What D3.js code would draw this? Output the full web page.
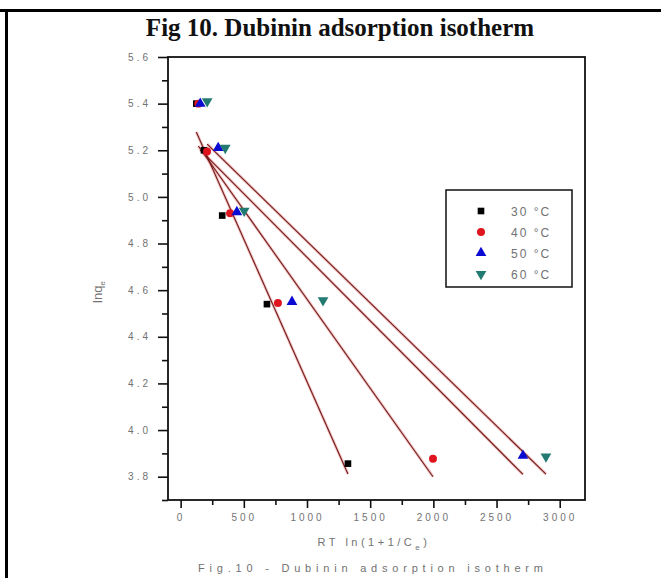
<!DOCTYPE html>
<html>
<head>
<meta charset="utf-8">
<script src="https://cdn.jsdelivr.net/npm/d3@7/dist/d3.min.js"></script>
<style>
  html, body { margin: 0; padding: 0; background: #fff; }
  svg { display: block; }
</style>
</head>
<body>
<svg id="chart" width="661" height="578"></svg>
<script>
// Dubinin isotherm: ln qe against RT ln(1 + 1/Ce) at four temperatures
const seriesNames = ["30 °C", "40 °C", "50 °C", "60 °C"];
const x30 = [124, 185, 329, 683, 1324];
const y30 = [5.40, 5.20, 4.92, 4.54, 3.856];
const x40 = [140, 209, 391, 770, 1997];
const y40 = [5.40, 5.195, 4.93, 4.545, 3.877];
const x50 = [155, 297, 445, 881, 2709];
const y50 = [5.40, 5.21, 4.935, 4.55, 3.89];
const x60 = [210, 353, 503, 1127, 2891];
const y60 = [5.41, 5.21, 4.94, 4.556, 3.886];

const xTicks = [0, 500, 1000, 1500, 2000, 2500, 3000];
const xMinorTicks = [250, 750, 1250, 1750, 2250, 2750];
const yTicks = [3.8, 4.0, 4.2, 4.4, 4.6, 4.8, 5.0, 5.2, 5.4, 5.6];
const yMinorTicks = [3.7, 3.9, 4.1, 4.3, 4.5, 4.7, 4.9, 5.1, 5.3, 5.5];

const colors = ["#000000", "#e0141e", "#0a0ad2", "#237a72"];
const symbols = ["square", "circle", "triangleUp", "triangleDown"];

const seriesX = [x30, x40, x50, x60];
const seriesY = [y30, y40, y50, y60];

const svg = d3.select("#chart");

// page border (top and left rules)
svg.append("rect").attr("x", 0).attr("y", 9).attr("width", 661).attr("height", 3).attr("fill", "#000");
svg.append("rect").attr("x", 5).attr("y", 9).attr("width", 3).attr("height", 569).attr("fill", "#000");

// heading
svg.append("text")
  .attr("x", 340).attr("y", 36)
  .attr("text-anchor", "middle")
  .attr("font-family", "'Liberation Serif', 'Times New Roman', serif")
  .attr("font-weight", "bold")
  .attr("font-size", 25)
  .attr("fill", "#111")
  .text("Fig 10. Dubinin adsorption isotherm");

const plot = { left: 168, right: 585, top: 57, bottom: 500 };
const x = d3.scaleLinear().domain([-100, 3200]).range([plot.left, plot.right]);
const y = d3.scaleLinear().domain([3.7, 5.6]).range([plot.bottom, plot.top]);

const labelColor = "#727272";
const sans = "'Liberation Sans', Arial, sans-serif";

// axes
function styleAxis(g) {
  g.select(".domain").remove();
  g.selectAll(".tick line").attr("stroke", "#111").attr("stroke-width", 1.6);
  g.selectAll(".tick text")
    .attr("fill", labelColor)
    .attr("font-family", sans)
    .attr("font-size", 10)
    .attr("letter-spacing", "3px");
}

svg.append("g")
  .attr("transform", `translate(0,${plot.bottom})`)
  .call(d3.axisBottom(x).tickValues(xMinorTicks).tickSize(5).tickFormat(""))
  .call(styleAxis);
svg.append("g")
  .attr("transform", `translate(0,${plot.bottom})`)
  .call(d3.axisBottom(x).tickValues(xTicks).tickSize(8).tickPadding(6).tickFormat(d3.format("d")))
  .call(styleAxis);

svg.append("g")
  .attr("transform", `translate(${plot.left},0)`)
  .call(d3.axisLeft(y).tickValues(yMinorTicks).tickSize(6).tickFormat(""))
  .call(styleAxis);
svg.append("g")
  .attr("transform", `translate(${plot.left},0)`)
  .call(d3.axisLeft(y).tickValues(yTicks).tickSize(10).tickPadding(7).tickFormat(d3.format(".1f")))
  .call(styleAxis);

// plot frame
svg.append("rect")
  .attr("x", plot.left).attr("y", plot.top)
  .attr("width", plot.right - plot.left).attr("height", plot.bottom - plot.top)
  .attr("fill", "none").attr("stroke", "#111").attr("stroke-width", 1.8);

// least-squares fit lines spanning each series
function fit(xs, ys) {
  const mx = d3.mean(xs), my = d3.mean(ys);
  let sxy = 0, sxx = 0;
  xs.forEach((v, i) => { sxy += (v - mx) * (ys[i] - my); sxx += (v - mx) * (v - mx); });
  const b = sxy / sxx, a = my - b * mx;
  const x0 = d3.min(xs), x1 = d3.max(xs);
  return [[x0, a + b * x0], [x1, a + b * x1]];
}

const lineGen = d3.line().x(d => x(d[0])).y(d => y(d[1]));
const fits = seriesX.map((xs, i) => fit(xs, seriesY[i]));

svg.append("g").selectAll("path").data(fits).join("path")
  .attr("d", lineGen).attr("fill", "none")
  .attr("stroke", "#e25555").attr("stroke-opacity", 0.35).attr("stroke-width", 3);
svg.append("g").selectAll("path").data(fits).join("path")
  .attr("d", lineGen).attr("fill", "none")
  .attr("stroke", "#6e1c1c").attr("stroke-width", 1.1);

// markers
function markerPath(kind) {
  switch (kind) {
    case "square": return d3.symbol(d3.symbolSquare, 44)();
    case "circle": return d3.symbol(d3.symbolCircle, 50)();
    default: return d3.symbol(d3.symbolTriangle, 50)();
  }
}
function drawMarker(g, kind, color, px, py) {
  g.append("path")
    .attr("d", markerPath(kind))
    .attr("transform", `translate(${px},${py})${kind === "triangleDown" ? " rotate(180)" : ""}`)
    .attr("fill", color);
}

const markers = svg.append("g");
seriesX.forEach((xs, i) => {
  xs.forEach((v, j) => drawMarker(markers, symbols[i], colors[i], x(v), y(seriesY[i][j])));
});

// legend
const legend = svg.append("g");
legend.append("rect")
  .attr("x", 446).attr("y", 190).attr("width", 126).attr("height", 97)
  .attr("fill", "#fff").attr("stroke", "#111").attr("stroke-width", 1.5);
seriesNames.forEach((name, i) => {
  const ly = 211 + i * 21;
  drawMarker(legend, symbols[i], colors[i], 481, ly);
  legend.append("text")
    .attr("x", 511).attr("y", ly + 5)
    .attr("font-family", sans).attr("font-size", 12)
    .attr("letter-spacing", "2px")
    .attr("fill", labelColor)
    .text(name);
});

// axis titles
const yTitle = svg.append("text")
  .attr("transform", "translate(102,292) rotate(-90)")
  .attr("text-anchor", "middle")
  .attr("font-family", sans).attr("font-size", 13)
  .attr("fill", labelColor);
yTitle.append("tspan").text("lnq");
yTitle.append("tspan").attr("font-size", 8).attr("dy", 3).text("e");

const xTitle = svg.append("text")
  .attr("x", 374).attr("y", 546)
  .attr("text-anchor", "middle")
  .attr("font-family", sans).attr("font-size", 11)
  .attr("letter-spacing", "3.5px")
  .attr("fill", labelColor);
xTitle.append("tspan").text("RT ln(1+1/C");
xTitle.append("tspan").attr("font-size", 8).attr("dy", 4).text("e");
xTitle.append("tspan").attr("dy", -4).text(")");

// caption
svg.append("text")
  .attr("x", 198).attr("y", 572)
  .attr("textLength", 345).attr("lengthAdjust", "spacing")
  .attr("font-family", sans).attr("font-size", 11)
  .attr("fill", labelColor)
  .text("Fig.10 - Dubinin adsorption isotherm");
</script>
</body>
</html>
